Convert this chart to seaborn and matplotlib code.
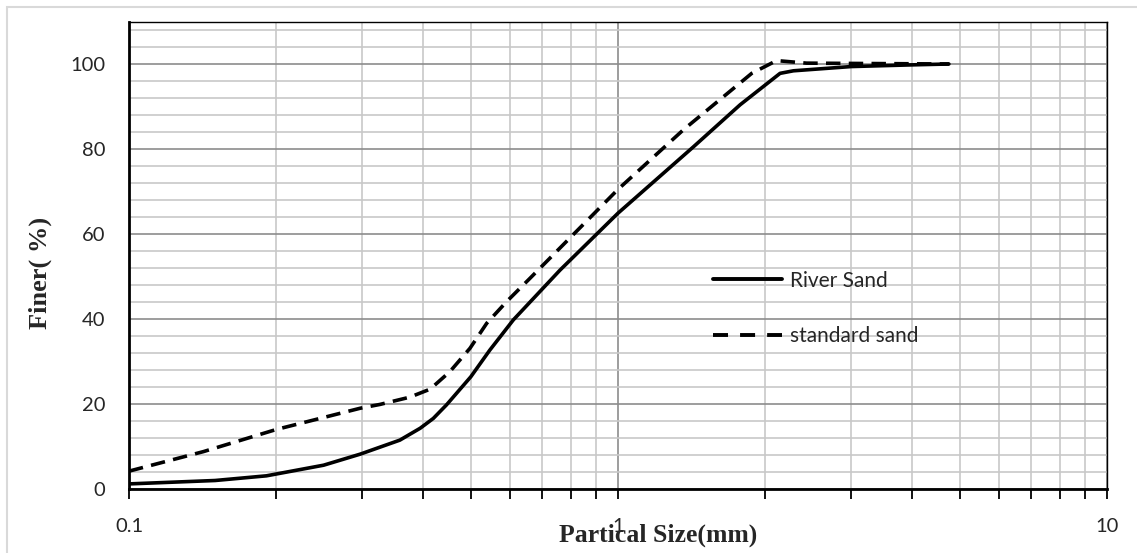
import numpy as np
import pandas as pd
import matplotlib
matplotlib.use("Agg")
import matplotlib.pyplot as plt
import seaborn as sns
from matplotlib.patches import Rectangle
from matplotlib.ticker import FixedLocator, NullFormatter, FixedFormatter

# ---- data ----
river_x = [0.1, 0.15, 0.191, 0.25, 0.297, 0.358, 0.394, 0.419, 0.446, 0.5, 0.547, 0.611,
           0.761, 1.0, 1.426, 1.777, 2.145, 2.284, 3.0, 4.0, 4.75]
river_y = [1.2, 2.0, 3.1, 5.6, 8.2, 11.5, 14.3, 16.6, 19.8, 26.4, 32.7, 39.8,
           51.5, 64.9, 80.5, 90.4, 97.8, 98.4, 99.4, 99.8, 100.0]

std_x = [0.1, 0.142, 0.2, 0.297, 0.326, 0.375, 0.413, 0.453, 0.498, 0.539, 0.592, 0.661,
         1.0, 1.36, 1.877, 2.11, 2.43, 4.75]
std_y = [4.2, 8.8, 14.0, 19.0, 19.9, 21.6, 23.5, 27.6, 33.1, 39.0, 44.1, 49.6,
         70.5, 84.5, 97.8, 100.8, 100.2, 100.0]

series_names = ["River Sand", "standard sand"]
x_ticks = [0.1, 1, 10]
x_tick_labels = ["0.1", "1", "10"]
y_ticks = [0, 20, 40, 60, 80, 100]
y_tick_labels = ["0", "20", "40", "60", "80", "100"]

sns.set_style("white")
plt.rcParams["font.family"] = ["Lato", "DejaVu Sans"]

W, H = 1137, 553
fig = plt.figure(figsize=(W / 100, H / 100), dpi=100)
L, R, T, B = 129, 1107, 21.5, 489
ax = fig.add_axes([L / W, 1 - B / H, (R - L) / W, (B - T) / H])

# outer light border
fig.patches.append(Rectangle((7 / W, -0.1), 1.2, 1 - 7 / H + 0.1, transform=fig.transFigure,
                             fill=False, edgecolor="#d9d9d9", linewidth=1.5, zorder=0))

df_r = pd.DataFrame({"x": river_x, "y": river_y})
df_s = pd.DataFrame({"x": std_x, "y": std_y})
sns.lineplot(data=df_r, x="x", y="y", ax=ax, color="black", linewidth=2.6,
             label=series_names[0], zorder=5)
sns.lineplot(data=df_s, x="x", y="y", ax=ax, color="black", linewidth=2.6,
             label=series_names[1], zorder=5)
for ln in ax.lines:
    ln.set_solid_joinstyle("round")
    ln.set_solid_capstyle("round")
ax.lines[1].set_dashes((4.0, 2.3))

ax.set_xscale("log")
ax.set_xlim(0.1, 10)
ax.set_ylim(0, 110)

ax.xaxis.set_major_locator(FixedLocator(x_ticks))
ax.xaxis.set_major_formatter(FixedFormatter(x_tick_labels))
minor_x = [m * d for d in (0.1, 1) for m in range(2, 10)]
ax.xaxis.set_minor_locator(FixedLocator(minor_x))
ax.xaxis.set_minor_formatter(NullFormatter())
ax.yaxis.set_major_locator(FixedLocator(y_ticks))
ax.yaxis.set_major_formatter(FixedFormatter(y_tick_labels))
ax.yaxis.set_minor_locator(FixedLocator([v for v in range(4, 110, 4) if v % 20 != 0]))

ax.grid(True, which="major", color="#8c8c8c", linewidth=1.2, zorder=1)
ax.grid(True, which="minor", color="#c8c8c8", linewidth=1.2, zorder=1)
ax.set_axisbelow(True)

ax.tick_params(axis="x", which="both", direction="out", length=7, width=1.3,
               color="black", bottom=True, labelsize=14.5, pad=14)
ax.tick_params(axis="y", which="both", length=0, labelsize=14.5, pad=17)

for s in ["left", "bottom"]:
    ax.spines[s].set_color("black")
    ax.spines[s].set_linewidth(2.0)
for s in ["top", "right"]:
    ax.spines[s].set_color("black")
    ax.spines[s].set_linewidth(1.0)
    ax.spines[s].set_visible(True)

ax.set_xlabel("Partical Size(mm)", family=["Liberation Serif"], fontweight="bold",
              fontsize=18.5, va="center")
ax.xaxis.set_label_coords((658 - L) / (R - L), (B - 535) / (B - T))
ax.set_ylabel("Finer( %)", family=["Liberation Serif"], fontweight="bold",
              fontsize=19, va="center")
ax.yaxis.set_label_coords((40 - L) / (R - L), (B - 273) / (B - T))

leg = ax.legend(loc="center left", bbox_to_anchor=(713 / W, 1 - 308.5 / H),
                bbox_transform=fig.transFigure, frameon=False, fontsize=15,
                handlelength=3.3, handletextpad=0.4, labelspacing=1.7,
                borderpad=0, borderaxespad=0)
for h in leg.get_lines():
    h.set_linewidth(2.8)
leg.get_lines()[1].set_dashes((3.86, 3.1))

fig.savefig("out.png", dpi=100)
